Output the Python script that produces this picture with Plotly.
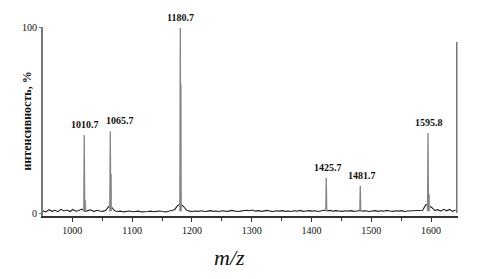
import plotly.graph_objects as go

# ---- data ----
peak_mz = [1020.0, 1063.5, 1180.6, 1424.7, 1481.6, 1594.8]
peak_int = [42.0, 44.0, 99.5, 19.0, 14.5, 43.0]
peak_labels = ["1010.7", "1065.7", "1180.7", "1425.7", "1481.7", "1595.8"]
label_xshift = [1, 10, 0, 2, 2, 1]

sec_mz = [1020.8, 1022.0, 1065.0, 1181.6, 1597.0]
sec_int = [7.0, 7.0, 21.0, 69.0, 10.0]

baseline_start = 951
baseline_step = 5
baseline_int = [
    1.2, 0.6, 1.8, 0.9, 1.5, 0.7, 2.0, 1.1, 1.6, 0.8, 1.9, 1.0, 1.4, 2.1, 0.9, 1.3, 1.7, 0.8, 1.5, 1.1, 0.9,
    1.5, 3.5, 3.0, 1.2,
    0.8, 1.0, 0.6, 0.9, 1.1, 0.7, 0.8, 1.0, 0.6, 0.9, 0.8, 1.0, 0.7, 0.9, 1.1, 0.8, 0.6, 1.0, 1.4,
    1.8, 4.0, 5.0, 3.5, 1.6,
    1.0, 0.8, 1.1, 0.9, 1.2, 0.8, 1.0, 1.3, 0.9, 1.1,
    0.8, 1.2, 1.0, 0.9, 1.4, 1.1, 0.8, 1.0, 1.3, 1.5,
    1.2, 1.6, 1.0, 1.3, 0.9, 1.1, 1.4, 1.0, 0.8, 1.2,
    1.0, 1.3, 0.9, 1.1, 0.8, 1.2, 1.0, 1.4, 0.9, 1.1,
    1.3, 1.0, 1.2, 0.8, 1.1, 1.5, 1.2, 1.4, 1.0, 1.3,
    1.1, 0.9, 1.2, 1.0, 1.3, 0.9, 1.1, 1.4, 1.0, 1.2,
    0.8, 1.1, 1.3, 0.9, 1.2, 1.0, 1.4, 1.1, 0.9, 1.2,
    1.0, 1.3, 0.8, 1.1, 1.2, 0.9, 1.0, 1.3,
    1.5, 4.5, 4.0, 3.0, 1.4,
    1.8, 1.0, 2.0, 1.2, 1.9, 0.9, 1.6,
]
edge_mz = 1643.0
edge_int = 92.0

x_tickvals = [1000, 1100, 1200, 1300, 1400, 1500, 1600]
y_tickvals = [0, 100]

# ---- build figure ----
baseline_mz = [baseline_start + baseline_step * i for i in range(len(baseline_int))]

fig = go.Figure()
fig.add_trace(go.Scatter(x=baseline_mz, y=baseline_int, mode="lines",
                         line=dict(color="#222222", width=1.1), hoverinfo="skip"))

def sticks(mzs, ints, hw=0.8):
    xs, ys = [], []
    for m, h in zip(mzs, ints):
        xs += [m - hw, m, m + hw, None]
        ys += [1.0, h, 1.0, None]
    return xs, ys

sx, sy = sticks(sec_mz, sec_int)
fig.add_trace(go.Scatter(x=sx, y=sy, mode="lines", line=dict(color="#999999", width=1)))
px_, py_ = sticks(peak_mz, peak_int)
fig.add_trace(go.Scatter(x=px_, y=py_, mode="lines", line=dict(color="#858585", width=1.3)))
fig.add_trace(go.Scatter(x=[edge_mz, edge_mz], y=[0, edge_int], mode="lines",
                         line=dict(color="#555555", width=1.2)))

for m, h, t, dx in zip(peak_mz, peak_int, peak_labels, label_xshift):
    fig.add_annotation(x=m, y=h, text="<b>%s</b>" % t, showarrow=False,
                       xanchor="center", yanchor="bottom", xshift=dx, yshift=3,
                       font=dict(family="Liberation Serif", size=10, color="#111"))

fig.add_annotation(xref="paper", yref="paper", x=0, y=0.5, xshift=-17,
                   text="<b>интенсивность, %</b>", textangle=-90, showarrow=False,
                   xanchor="center", yanchor="middle",
                   font=dict(family="Liberation Serif", size=12, color="#111"))
fig.add_annotation(xref="paper", yref="paper", x=0.45, y=0, yshift=-41,
                   text="<i>m/z</i>", showarrow=False,
                   xanchor="center", yanchor="middle",
                   font=dict(family="Liberation Serif", size=22, color="#111"))

fig.update_layout(
    width=479, height=279,
    margin=dict(l=43, r=21, t=27, b=63),
    paper_bgcolor="white", plot_bgcolor="white",
    showlegend=False,
    xaxis=dict(range=[951, 1645], tickvals=x_tickvals, showgrid=False, zeroline=False,
               showline=True, linecolor="#333", linewidth=1.5,
               ticks="outside", ticklen=4, tickcolor="#333",
               minor=dict(dtick=50, tick0=1000, ticks="outside", ticklen=3, tickcolor="#333"),
               tickfont=dict(family="Liberation Serif", size=10, color="#111"),
               tickprefix="<b>", ticksuffix="</b>"),
    yaxis=dict(range=[-1.6, 100], tickvals=y_tickvals, showgrid=False, zeroline=False,
               showline=True, linecolor="#777", linewidth=2,
               ticks="outside", ticklen=2, tickcolor="#777",
               tickfont=dict(family="Liberation Serif", size=10, color="#111"),
               tickprefix="<b>", ticksuffix="</b>"),
)

fig.write_html("out.html", config={"displayModeBar": False},
               post_script="document.body.style.margin='0';document.body.style.overflow='hidden';")
